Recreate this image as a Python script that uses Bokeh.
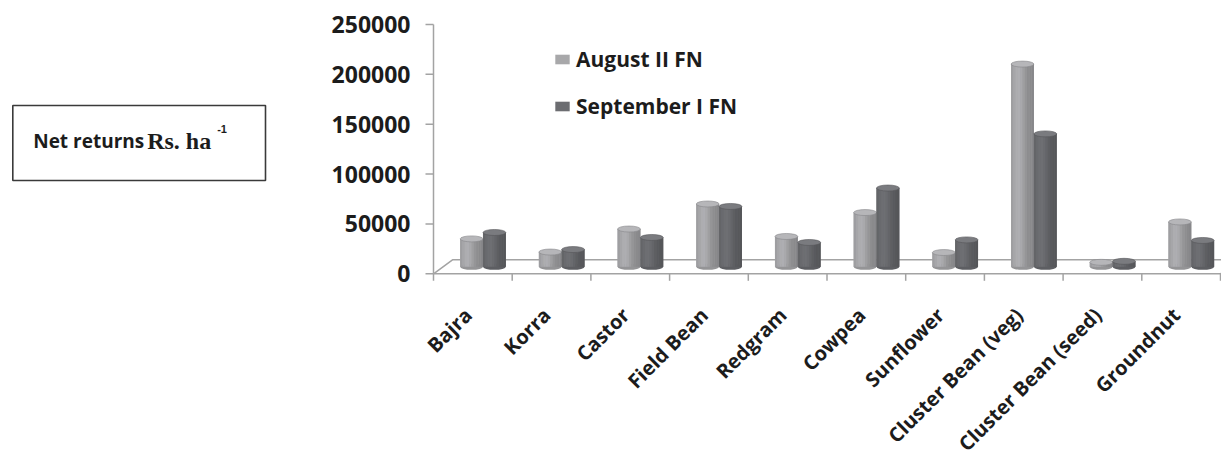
import numpy as np
from bokeh.plotting import figure
from bokeh.models import (Range1d, FixedTicker, BasicTickFormatter, ColumnDataSource,
                          Legend, LegendItem)
from bokeh.layouts import row
from bokeh.core.properties import value
from bokeh.embed import file_html
from bokeh.resources import INLINE

# ---------------- data ----------------
categories = ["Bajra", "Korra", "Castor", "Field Bean", "Redgram", "Cowpea",
              "Sunflower", "Cluster Bean (veg)", "Cluster Bean (seed)", "Groundnut"]
august_ii_fn = [28000, 14800, 37900, 63000, 30400, 54400, 14300, 203300, 4500, 45000]
september_i_fn = [34400, 17300, 29400, 60500, 24400, 79000, 27000, 133300, 5500, 26400]
series_names = ["August II FN", "September I FN"]
y_ticks = [0, 50000, 100000, 150000, 200000, 250000]
box_title = "Net returns"
box_unit = "Rs. ha"
box_sup = "-1"

# ---------------- geometry / style ----------------
H = 457
PX = 250000 / 249.3          # data units per vertical pixel
CAT_PX = 78.7                # pixels per category
LEFT_PAD = 13                # frame starts this many px left of the value axis
FRAME_W = 801
ZERO_Y = 273.3               # screen row of value 0 on the front edge
Y_END = ZERO_Y * PX
Y_START = -(H - ZERO_Y) * PX
X_START = -LEFT_PAD / CAT_PX
X_END = X_START + FRAME_W / CAT_PX
DEPTH_X = 19 / CAT_PX
DEPTH_Y = 14 * PX
BASE = DEPTH_Y / 2
PAIR_SHIFT = 0.129
BAR_W = 0.29
N_STRIP = 10
TICK_X = 8 / CAT_PX
TICK_Y = 7 * PX
GRAY = "#a3a3a3"
TXT = "#1c1c1c"
FONT = value("Open Sans")

series_vals = [august_ii_fn, september_i_fn]
series_base = [(168, 168, 171), (106, 107, 111)]
series_top = ["#b6b6b9", "#7a7b7f"]
series_body = ["#a8a8aa", "#6c6d71"]


def hexc(rgb, f):
    r, g, b = [int(max(0, min(255, round(c * f)))) for c in rgb]
    return "#%02x%02x%02x" % (r, g, b)


n = len(categories)

# ---------------- main chart ----------------
p = figure(width=913, height=H, output_backend="svg", toolbar_location=None, title=None,
           x_range=Range1d(X_START, X_END), y_range=Range1d(Y_START, Y_END),
           x_axis_location=None, y_axis_location="left",
           min_border_left=112, min_border_right=0, min_border_top=0,
           min_border_bottom=0)
p.align = "start"
p.outline_line_color = None
p.xgrid.visible = False
p.ygrid.visible = False
p.background_fill_color = "white"
p.border_fill_color = "white"

# value axis: Bokeh axis provides the tick labels; its line/ticks are drawn at x=0 below
ax = p.yaxis[0]
ax.ticker = FixedTicker(ticks=y_ticks, minor_ticks=[])
ax.formatter = BasicTickFormatter(use_scientific=False)
ax.axis_line_color = None
ax.major_tick_line_color = None
ax.major_tick_out = 0
ax.major_tick_in = 0
ax.minor_tick_line_color = None
ax.major_label_standoff = 10
ax.major_label_text_font = "Open Sans"
ax.major_label_text_font_style = "bold"
ax.major_label_text_font_size = "23px"
ax.major_label_text_color = TXT

p.segment(x0=[0], y0=[0], x1=[0], y1=[max(y_ticks)], line_color=GRAY, line_width=1.5)
p.segment(x0=[-TICK_X] * len(y_ticks), y0=y_ticks, x1=[0] * len(y_ticks), y1=y_ticks,
          line_color=GRAY, line_width=1.5)

# floor
p.patch(x=[0, n, n + DEPTH_X, DEPTH_X], y=[0, 0, DEPTH_Y, DEPTH_Y],
        fill_color="white", line_color=GRAY, line_width=1.5)
bounds_x = list(range(n + 1))
p.segment(x0=bounds_x, y0=[0] * (n + 1), x1=bounds_x, y1=[-TICK_Y] * (n + 1),
          line_color=GRAY, line_width=1.5)

# bars (cylinders)
t = (np.arange(N_STRIP) + 0.5) / N_STRIP
shade = 0.86 + 0.2 * np.exp(-((t - 0.33) / 0.3) ** 2) - 0.06 * t
body_renderers = []
for s, vals in enumerate(series_vals):
    vals = np.array(vals, dtype=float)
    xc = np.arange(n) + 0.5 + PAIR_SHIFT + (s - 0.5) * BAR_W
    body = p.vbar(x=xc, width=BAR_W, bottom=BASE, top=BASE + vals,
                  fill_color=series_body[s], line_color=None)
    body_renderers.append(body)
    p.ellipse(x=xc, y=[BASE] * n, width=BAR_W, height=6, height_units="screen",
              fill_color=hexc(series_base[s], 0.88), line_color=None)
    sx, stop, scol = [], [], []
    for i in range(n):
        for k in range(N_STRIP):
            sx.append(xc[i] - BAR_W / 2 + (k + 0.5) * BAR_W / N_STRIP)
            stop.append(BASE + vals[i])
            scol.append(hexc(series_base[s], shade[k]))
    src = ColumnDataSource(dict(x=sx, top=stop, color=scol))
    p.vbar(x="x", width=BAR_W / N_STRIP * 1.04, bottom=BASE, top="top",
           fill_color="color", line_color=None, source=src)
    p.ellipse(x=xc, y=BASE + vals, width=BAR_W, height=6, height_units="screen",
              fill_color=series_top[s], line_color=hexc(series_base[s], 0.8),
              line_width=0.6)

# category labels
p.text(x=np.arange(n) + 0.5 - 0.06, y=[-37.5 * PX] * n, text=categories,
       angle=np.pi / 4, text_align="right", text_baseline="middle",
       text_font=FONT, text_font_style="bold", text_font_size="20px",
       text_color=TXT)

legend = Legend(items=[LegendItem(label=series_names[0], renderers=[body_renderers[0]]),
                       LegendItem(label=series_names[1], renderers=[body_renderers[1]])],
                location=(133, 337), orientation="vertical",
                border_line_color=None, background_fill_alpha=0,
                glyph_width=18, glyph_height=12, padding=0, margin=0,
                spacing=19, label_standoff=5,
                label_text_font="Open Sans", label_text_font_style="bold",
                label_text_font_size="21px", label_text_color=TXT)
p.add_layout(legend)

# ---------------- side box ----------------
q = figure(width=308, height=H, output_backend="svg", toolbar_location=None, title=None,
           x_range=Range1d(0, 308), y_range=Range1d(H, 0),
           x_axis_location=None, y_axis_location=None,
           min_border=0)
q.align = "start"
q.outline_line_color = None
q.xgrid.visible = False
q.ygrid.visible = False
q.quad(left=[12.3], right=[265], top=[105], bottom=[180], fill_color=None,
       line_color="#3a3a3a", line_width=1.6)
q.text(x=[32.7], y=[140], text=[box_title], text_font=FONT, text_font_style="bold",
       text_font_size="19px", text_baseline="alphabetic", text_color=TXT)
q.text(x=[146.7], y=[140], text=[box_unit], text_font=value("Liberation Serif"),
       text_font_style="bold", text_font_size="24px", text_baseline="alphabetic",
       text_color=TXT)
q.text(x=[216.7], y=[128.5], text=[box_sup], text_font=value("Liberation Sans"),
       text_font_style="bold", text_font_size="11px", text_baseline="alphabetic",
       text_color=TXT)

layout = row(q, p)
open("out.html", "w").write(file_html(layout, INLINE))
